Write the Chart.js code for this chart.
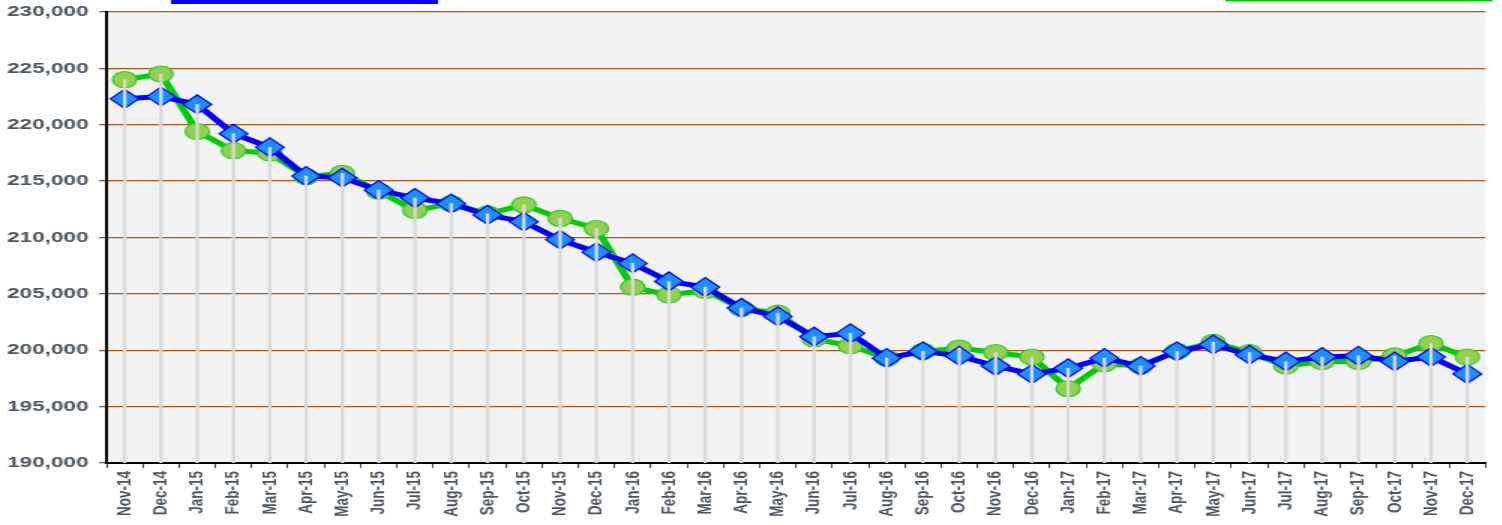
<!DOCTYPE html>
<html>
<head>
<meta charset="utf-8">
<script src="https://cdn.jsdelivr.net/npm/chart.js@4.4.0/dist/chart.umd.min.js"></script>
<style>
  html, body { margin: 0; padding: 0; background: #fff; overflow: hidden; }
  #wrap { width: 1502px; height: 525px; overflow: hidden; }
  /* the original picture is a narrower chart stretched sideways */
  #chart { transform: scaleX(1.5); transform-origin: 0 0; display: block; }
</style>
</head>
<body>
<div id="wrap"><canvas id="chart" width="1001" height="525"></canvas></div>
<script>
document.addEventListener('DOMContentLoaded', function () {

  const months = ['Nov-14','Dec-14','Jan-15','Feb-15','Mar-15','Apr-15','May-15','Jun-15','Jul-15','Aug-15','Sep-15','Oct-15',
                  'Nov-15','Dec-15','Jan-16','Feb-16','Mar-16','Apr-16','May-16','Jun-16','Jul-16','Aug-16','Sep-16','Oct-16',
                  'Nov-16','Dec-16','Jan-17','Feb-17','Mar-17','Apr-17','May-17','Jun-17','Jul-17','Aug-17','Sep-17','Oct-17',
                  'Nov-17','Dec-17'];

  // green series (circles)
  const monthly = [224000, 224500, 219400, 217700, 217500, 215400, 215700, 214100, 212400, 213000, 212100, 212900,
                   211700, 210800, 205600, 204900, 205300, 203700, 203300, 201000, 200400, 199300, 199900, 200200,
                   199800, 199400, 196600, 198800, 198600, 199900, 200700, 199800, 198600, 199000, 199000, 199500,
                   200600, 199400];

  // blue series (diamonds)
  const trend = [222300, 222500, 221800, 219200, 218000, 215450, 215300, 214200, 213500, 213000, 212000, 211400,
                 209800, 208700, 207700, 206100, 205600, 203750, 203000, 201200, 201500, 199300, 199900, 199500,
                 198600, 197900, 198400, 199300, 198600, 199900, 200500, 199600, 199000, 199400, 199500, 199000,
                 199400, 197900];

  const yMin = 190000;
  const yMax = 230000;
  const yStep = 5000;

  // drop lines go from the axis up to the higher of the two points
  const dropLines = months.map((m, i) => [yMin, Math.max(monthly[i], trend[i])]);

  const plotBackground = {
    id: 'plotBackground',
    beforeDraw(chart) {
      const { ctx, chartArea: a } = chart;
      ctx.save();
      ctx.fillStyle = '#f2f2f2';
      ctx.fillRect(a.left, a.top, a.right - a.left, a.bottom - a.top);
      ctx.restore();
    }
  };

  // bits of the legend that stick in at the top edge
  const legendStubs = {
    id: 'legendStubs',
    afterDraw(chart) {
      const ctx = chart.ctx;
      ctx.save();
      ctx.fillStyle = '#0000ff';
      ctx.fillRect(114, 0, 178, 4);
      ctx.fillStyle = '#00cc00';
      ctx.fillRect(817, 0, 178, 1.5);
      ctx.restore();
    }
  };

  const labelFont = { family: '"Liberation Sans", Arial, sans-serif', weight: 'bold' };

  new Chart(document.getElementById('chart'), {
    data: {
      labels: months,
      datasets: [
        {
          type: 'bar',
          data: dropLines,
          backgroundColor: '#dadada',
          barThickness: 1.6,
          order: 0
        },
        {
          type: 'line',
          data: trend,
          borderColor: '#0000ff',
          borderWidth: 5,
          pointStyle: 'rectRot',
          pointRadius: 9.5,
          pointBackgroundColor: '#1e90ff',
          pointBorderColor: '#0000ff',
          pointBorderWidth: 1.2,
          tension: 0,
          order: 1
        },
        {
          type: 'line',
          data: monthly,
          borderColor: '#00cc00',
          borderWidth: 5,
          pointStyle: 'circle',
          pointRadius: 8,
          pointBackgroundColor: '#92d050',
          pointBorderColor: '#2ecc2e',
          pointBorderWidth: 1.2,
          tension: 0,
          order: 2
        }
      ]
    },
    options: {
      responsive: false,
      animation: false,
      layout: { padding: { top: 12, right: 7, left: 0, bottom: 0 } },
      plugins: {
        legend: { display: false },
        tooltip: { enabled: false }
      },
      scales: {
        x: {
          offset: true,
          afterFit: s => { s.height = 62; },
          grid: {
            offset: true,
            drawOnChartArea: false,
            tickLength: 5,
            tickColor: '#444'
          },
          border: { color: '#000', width: 2 },
          ticks: {
            autoSkip: false,
            minRotation: 90,
            maxRotation: 90,
            padding: 3,
            color: '#4a5560',
            font: Object.assign({ size: 13.5 }, labelFont)
          }
        },
        y: {
          min: yMin,
          max: yMax,
          afterFit: s => { s.width = 71; s.paddingTop = 0; s.paddingBottom = 0; },
          grid: {
            color: 'rgb(170, 85, 20)',
            lineWidth: 1.3,
            tickLength: 5,
            tickColor: '#666'
          },
          border: { color: '#000', width: 2 },
          ticks: {
            stepSize: yStep,
            padding: 7,
            color: '#4a5560',
            font: Object.assign({ size: 15 }, labelFont),
            callback: v => v.toLocaleString('en-US')
          }
        }
      }
    },
    plugins: [plotBackground, legendStubs]
  });

});
</script>
</body>
</html>
